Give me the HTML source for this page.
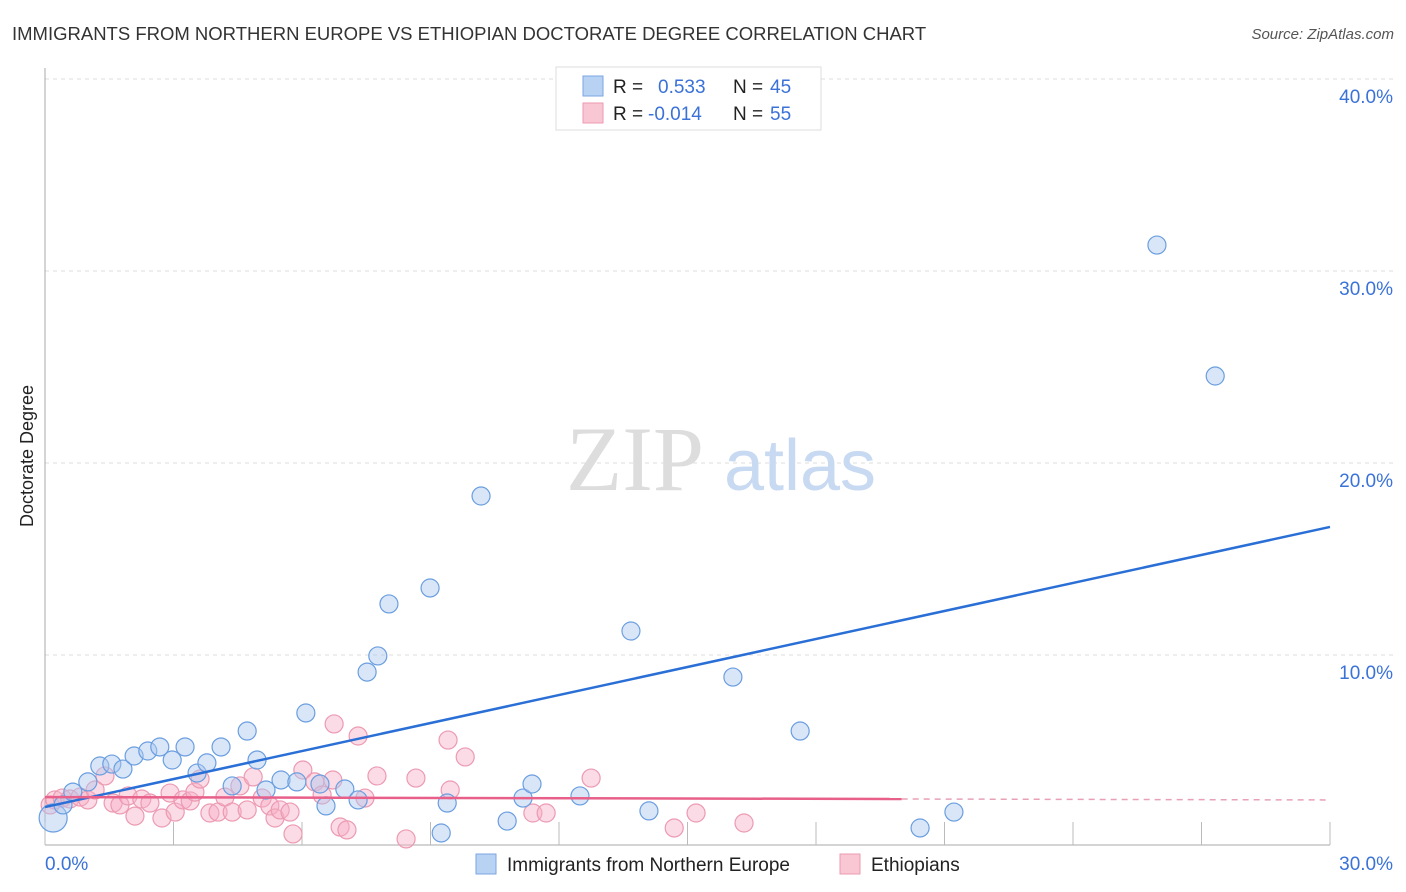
<!DOCTYPE html>
<html><head><meta charset="utf-8">
<style>
body{margin:0;background:#fff;font-family:"Liberation Sans",sans-serif;}
svg{display:block}
</style></head>
<body>
<svg id="chart" width="1406" height="892" xmlns="http://www.w3.org/2000/svg">
<text x="12" y="40" font-size="18.5" fill="#333">IMMIGRANTS FROM NORTHERN EUROPE VS ETHIOPIAN DOCTORATE DEGREE CORRELATION CHART</text>
<text x="1394" y="39" font-size="15" fill="#555" font-style="italic" text-anchor="end">Source: ZipAtlas.com</text>
<text transform="translate(33,456) rotate(-90)" font-size="18" fill="#222" text-anchor="middle">Doctorate Degree</text>
<g id="grid"></g>
<g id="watermark">
<text x="635" y="490" font-size="92" fill="#ddd" font-family="Liberation Serif,serif" text-anchor="middle">ZIP</text>
<text x="800" y="490" font-size="72" fill="#c8d9f2" text-anchor="middle">atlas</text>
</g>
<g id="axes"></g>
<g id="pts"></g>
<g id="lines"></g>
<g>
<rect x="556" y="67" width="265" height="63" fill="#fff" stroke="#ddd"/>
<rect x="583" y="76" width="20" height="20" fill="#b8d2f4" stroke="#7aa6e2"/>
<rect x="583" y="103" width="20" height="20" fill="#f9c6d4" stroke="#ec9ab2"/>
<text x="613" y="93" font-size="19" fill="#222">R = </text><text x="658" y="93" font-size="19" fill="#3a72d8">0.533</text>
<text x="733" y="93" font-size="19" fill="#222">N = </text><text x="770" y="93" font-size="19" fill="#3a72d8">45</text>
<text x="613" y="120" font-size="19" fill="#222">R = </text><text x="648" y="120" font-size="19" fill="#3a72d8">-0.014</text>
<text x="733" y="120" font-size="19" fill="#222">N = </text><text x="770" y="120" font-size="19" fill="#3a72d8">55</text>
</g>
<g>
<rect x="476" y="854" width="20" height="20" fill="#b8d2f4" stroke="#7aa6e2"/>
<text x="507" y="871" font-size="19" fill="#222">Immigrants from Northern Europe</text>
<rect x="840" y="854" width="20" height="20" fill="#f9c6d4" stroke="#ec9ab2"/>
<text x="871" y="871" font-size="19" fill="#222">Ethiopians</text>
</g>
</svg>
<script>
const blueX=[0.19,0.42,0.65,1.0,1.28,1.56,1.82,2.08,2.40,2.68,2.97,3.27,3.55,3.78,4.11,4.37,4.72,4.95,5.16,5.51,5.88,6.09,6.42,6.56,7.0,7.31,7.52,7.77,8.03,8.99,9.25,9.39,10.18,10.79,11.16,11.37,12.49,13.68,14.10,16.06,17.63,20.43,21.22,25.96,27.32];
const blueY=[1.51,2.19,2.86,3.39,4.22,4.32,4.06,4.74,5.0,5.21,4.53,5.21,3.85,4.38,5.21,3.18,6.04,4.53,2.97,3.49,3.39,6.98,3.28,2.14,3.02,2.45,9.11,9.95,12.66,13.49,0.73,2.29,18.28,1.35,2.55,3.28,2.66,11.25,1.88,8.85,6.04,0.99,1.82,31.35,24.53];
const pinkX=[0.12,0.23,0.40,0.58,0.82,1.0,1.17,1.40,1.59,1.75,1.94,2.10,2.26,2.45,2.73,2.92,3.04,3.22,3.39,3.50,3.62,3.85,4.04,4.20,4.37,4.55,4.72,4.86,5.07,5.25,5.37,5.49,5.72,5.79,6.02,6.30,6.47,6.72,6.75,6.89,7.05,7.31,7.47,7.75,8.43,8.66,9.41,9.46,9.81,11.39,11.70,12.75,14.69,15.20,16.32];
const pinkY=[2.19,2.45,2.55,2.5,2.6,2.45,2.97,3.70,2.29,2.19,2.66,1.61,2.5,2.29,1.51,2.81,1.82,2.45,2.40,2.86,3.54,1.77,1.82,2.6,1.82,3.18,1.93,3.65,2.55,2.14,1.51,1.93,1.82,0.68,4.01,3.39,2.71,3.49,6.41,1.04,0.89,5.78,2.55,3.70,0.42,3.59,5.57,2.97,4.69,1.77,1.77,3.59,0.99,1.77,1.25];
const blueTrend=[[0,2.08],[30,16.67]];
const pinkTrend=[[0,2.6],[20,2.5],[30,2.45]];
const yTicks=[10,20,30,40];
const yTickLabels=["10.0%","20.0%","30.0%","40.0%"];
const xTicks=[0,3,6,9,12,15,18,21,24,27,30];

const NS="http://www.w3.org/2000/svg";
const X=v=>45+v*(1285/30);
const Y=v=>847-v*19.2;
function mk(t,a,p){const e=document.createElementNS(NS,t);for(const k in a)e.setAttribute(k,a[k]);p.appendChild(e);return e;}
const grid=document.getElementById('grid'),axes=document.getElementById('axes'),pts=document.getElementById('pts'),lines=document.getElementById('lines');
yTicks.forEach((t,i)=>{
 const l=mk('line',{x1:45,x2:1393,y1:Y(t),y2:Y(t),stroke:'#ddd','stroke-dasharray':'4,4'},grid);
 
 
 const tx=mk('text',{x:1393,y:Y(t)+24,'font-size':19,fill:'#3a72d8','text-anchor':'end'},axes);
 tx.textContent=yTickLabels[i];
 
 
});
mk('line',{x1:45,x2:45,y1:68,y2:845,stroke:'#aaa'},axes);
mk('line',{x1:45,x2:1330,y1:845,y2:845,stroke:'#aaa'},axes);
xTicks.forEach(t=>{const l=mk('line',{x1:X(t),x2:X(t),y1:822,y2:845,stroke:'#bbb'},axes);
 
 });
const x0=mk('text',{x:45,y:870,'font-size':19,fill:'#3a72d8'},axes);x0.textContent='0.0%';


const x1=mk('text',{x:1393,y:870,'font-size':19,fill:'#3a72d8','text-anchor':'end'},axes);x1.textContent='30.0%';


pinkX.forEach((v,i)=>{const c=mk('circle',{cx:X(v),cy:Y(pinkY[i]),r:9,fill:'rgba(246,176,198,0.45)',stroke:'#ec9ab2','stroke-width':1.2},pts);
 
 });
blueX.forEach((v,i)=>{const c=mk('circle',{cx:X(v),cy:Y(blueY[i]),r:i===0?14:9,fill:'rgba(170,200,240,0.45)',stroke:'#6a9ee0','stroke-width':1.2},pts);
 
 });
const bl=mk('line',{x1:X(blueTrend[0][0]),y1:Y(blueTrend[0][1]),x2:X(blueTrend[1][0]),y2:Y(blueTrend[1][1]),stroke:'#2a6fd6','stroke-width':2.5},lines);


const pl=mk('line',{x1:X(pinkTrend[0][0]),y1:Y(pinkTrend[0][1]),x2:X(pinkTrend[1][0]),y2:Y(pinkTrend[1][1]),stroke:'#e8608a','stroke-width':2.5},lines);


const pd=mk('line',{x1:X(pinkTrend[1][0]),y1:Y(pinkTrend[1][1]),x2:X(pinkTrend[2][0]),y2:Y(pinkTrend[2][1]),stroke:'#e8a0b6','stroke-width':1.5,'stroke-dasharray':'6,5'},lines);


</script>
</body></html>
